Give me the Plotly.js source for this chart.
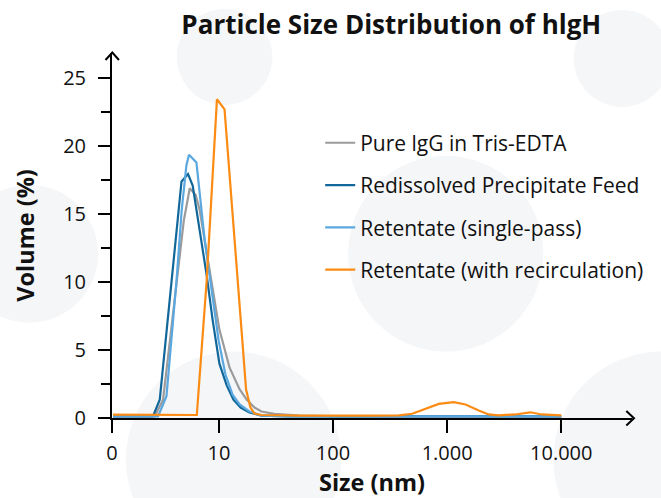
<!DOCTYPE html>
<html>
<head>
<meta charset="utf-8">
<script src="https://cdn.plot.ly/plotly-3.0.1.min.js"></script>
<style>html,body{margin:0;padding:0;background:#fff;}#chart{width:661px;height:498px;}</style>
</head>
<body>
<div id="chart"></div>
<script>
// ---- Data (size in nm, volume in %) ----
const seriesNames = [
  "Pure lgG in Tris-EDTA",
  "Redissolved Precipitate Feed",
  "Retentate (single-pass)",
  "Retentate (with recirculation)"
];
const seriesColors = ["#9b9b9b", "#11679a", "#5aa8df", "#fb8b12"];

const pureSize   = [1.18, 2.74, 3.24, 4.10, 4.92, 5.55, 6.26, 6.78, 8.29, 10.1, 12.4, 15.2, 17.5, 20.5, 23.6, 30.6, 50.7, 113, 1000, 10000];
const pureVol    = [0.12, 0.12, 1.35, 8.7, 14.5, 16.9, 16.4, 15.3, 10.9, 6.5, 3.7, 2.1, 1.35, 0.77, 0.48, 0.3, 0.18, 0.12, 0.12, 0.12];

const feedSize   = [1.18, 2.64, 3.03, 4.70, 5.36, 5.89, 6.78, 7.81, 8.81, 10.1, 11.7, 13.4, 15.5, 18.5, 23.6, 41.4, 1000, 10000];
const feedVol    = [0.12, 0.12, 1.35, 17.4, 17.95, 17.1, 13.8, 10.5, 7.2, 4.0, 2.4, 1.35, 0.77, 0.4, 0.18, 0.12, 0.12, 0.12];

const singleSize = [1.18, 2.93, 3.47, 4.25, 4.72, 5.19, 5.47, 6.35, 7.50, 8.63, 9.94, 11.4, 13.2, 15.2, 18.5, 23.6, 41.4, 1000, 10000];
const singleVol  = [0.12, 0.12, 1.6, 10.1, 15.3, 18.6, 19.36, 18.8, 13.1, 9.4, 5.7, 3.2, 1.7, 1.0, 0.48, 0.18, 0.12, 0.12, 0.12];

const recircSize = [1.18, 6.4, 7.81, 9.61, 11.2, 17.3, 18.9, 20.5, 23.6, 50.7, 220, 378, 494, 647, 845, 1143, 1449, 1892, 2312, 2825, 3954, 5346, 6761, 10000];
const recircVol  = [0.25, 0.22, 10.1, 23.45, 22.7, 2.09, 0.77, 0.33, 0.22, 0.18, 0.18, 0.2, 0.31, 0.7, 1.04, 1.16, 0.99, 0.55, 0.26, 0.2, 0.26, 0.42, 0.26, 0.2];

const xTickVals = [1.156, 10, 100, 1000, 10000];
const xTickText = ["0", "10", "100", "1.000", "10.000"];
const yTickVals = [0, 5, 10, 15, 20, 25];

const sizes = [pureSize, feedSize, singleSize, recircSize];
const vols  = [pureVol, feedVol, singleVol, recircVol];

const traces = seriesNames.map((name, i) => ({
  type: "scatter",
  mode: "lines",
  name: name,
  legendgroup: "g" + i,
  x: sizes[i],
  y: vols[i],
  line: {color: seriesColors[i], width: 2.2},
  hoverinfo: "x+y+name"
}));

// decorative background circles (pixel centres / radii converted to paper units)
const L = 112, R = 634, T = 53, B = 418.5;
const W = R - L, H = B - T;
function circ(cx, cy, r) {
  return {
    type: "circle", xref: "paper", yref: "paper", layer: "below",
    x0: (cx - r - L) / W, x1: (cx + r - L) / W,
    y0: (B - (cy + r)) / H, y1: (B - (cy - r)) / H,
    fillcolor: "#f5f6f8", line: {width: 0}
  };
}
function px(xp, yp) { return ((xp - L) / W).toFixed(5) + "," + ((B - yp) / H).toFixed(5); }
const shapes = [
  circ(225, 57, 48), circ(624, 58.5, 48.5), circ(29, 254, 69),
  circ(447, 254, 98), circ(234, 460, 108), circ(663, 460, 108),
  {type: "path", xref: "paper", yref: "paper", path: "M" + px(628.3, 411.5) + "L" + px(636, 418.8) + "L" + px(628.3, 426), line: {color: "#000", width: 2}},
  {type: "path", xref: "paper", yref: "paper", path: "M" + px(105.5, 60) + "L" + px(112.3, 52.5) + "L" + px(119, 60), line: {color: "#000", width: 2}}
];

const layout = {
  width: 661, height: 498,
  margin: {l: L, r: 661 - R, t: T, b: 498 - B},
  paper_bgcolor: "#ffffff",
  plot_bgcolor: "rgba(0,0,0,0)",
  font: {family: "Open Sans, Noto Sans, sans-serif", color: "#111", size: 18},
  title: {
    text: "<b>Particle Size Distribution of hlgH</b>",
    font: {family: "Open Sans, sans-serif", size: 26, color: "#111"},
    x: 0.592, xanchor: "center", xref: "container",
    y: 0.950, yanchor: "middle", yref: "container"
  },
  xaxis: {
    type: "log",
    range: [Math.log10(1.156), 4.62],
    tickvals: xTickVals, ticktext: xTickText,
    showgrid: false, zeroline: false,
    showline: true, linecolor: "#000", linewidth: 2,
    ticks: "outside", ticklen: 13, tickwidth: 2, tickcolor: "#000",
    tickfont: {size: 20, color: "#111"},
    ticklabelstandoff: 3,
    title: {text: "<b>Size (nm)</b>", font: {size: 23.5, color: "#111"}, standoff: 10}
  },
  yaxis: {
    range: [0, 26.85],
    tickvals: yTickVals,
    showgrid: false, zeroline: false,
    showline: true, linecolor: "#000", linewidth: 2,
    ticks: "outside", ticklen: 12, tickwidth: 2, tickcolor: "#000",
    tickfont: {size: 20, color: "#111"},
    ticklabelstandoff: 8,
    minor: {dtick: 2.5, tick0: 0, ticks: "outside", ticklen: 9, tickwidth: 2, tickcolor: "#000"},
    title: {text: "<b>Volume (%)</b>", font: {size: 23.5, color: "#111"}, standoff: 22}
  },
  legend: {
    x: (321 - L) / W, xanchor: "left",
    y: (B - 122.7) / H, yanchor: "top",
    bgcolor: "rgba(0,0,0,0)", borderwidth: 0,
    font: {size: 21, color: "#111"},
    tracegroupgap: 12
  },
  shapes: shapes,
  showlegend: true
};

Plotly.newPlot("chart", traces, layout, {displayModeBar: false, staticPlot: true});
</script>
</body>
</html>
